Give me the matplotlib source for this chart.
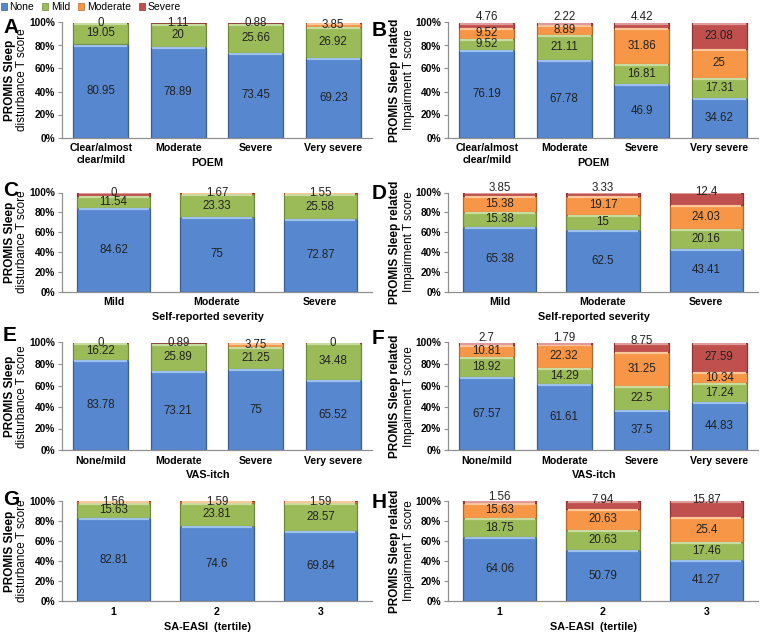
import matplotlib
matplotlib.use('Agg')
import matplotlib.pyplot
import matplotlib.patches
import numpy

matplotlib.pyplot.rcParams['font.family'] = ['Liberation Sans', 'DejaVu Sans']

# Severity levels, fill / edge / highlight colours (Excel 2007 look)
levels = ['None', 'Mild', 'Moderate', 'Severe']
fillColor = ['#5787CE', '#9BBB59', '#F79646', '#C0504D']
edgeColor = ['#3A5F8F', '#6F8A3C', '#B5692D', '#8A3533']
lightColor = ['#9EC0EC', '#C8DCA0', '#FBC79A', '#DE9C9A']

# Category labels
poemCategories = ['Clear/almost\nclear/mild', 'Moderate', 'Severe', 'Very severe']
selfCategories = ['Mild', 'Moderate', 'Severe']
itchCategories = ['None/mild', 'Moderate', 'Severe', 'Very severe']
easiCategories = ['1', '2', '3']

# A: POEM vs PROMIS sleep disturbance
aNone = [80.95, 78.89, 73.45, 69.23]
aMild = [19.05, 20, 25.66, 26.92]
aModerate = [0, 1.11, 0.88, 3.85]
aSevere = [0, 0, 0, 0]

# B: POEM vs PROMIS sleep related impairment
bNone = [76.19, 67.78, 46.9, 34.62]
bMild = [9.52, 21.11, 16.81, 17.31]
bModerate = [9.52, 8.89, 31.86, 25]
bSevere = [4.76, 2.22, 4.42, 23.08]

# C: self-reported severity vs PROMIS sleep disturbance
cNone = [84.62, 75, 72.87]
cMild = [11.54, 23.33, 25.58]
cModerate = [0, 1.67, 1.55]
cSevere = [3.84, 0, 0]

# D: self-reported severity vs PROMIS sleep related impairment
dNone = [65.38, 62.5, 43.41]
dMild = [15.38, 15, 20.16]
dModerate = [15.38, 19.17, 24.03]
dSevere = [3.85, 3.33, 12.4]

# E: VAS-itch vs PROMIS sleep disturbance
eNone = [83.78, 73.21, 75, 65.52]
eMild = [16.22, 25.89, 21.25, 34.48]
eModerate = [0, 0.89, 3.75, 0]
eSevere = [0, 0, 0, 0]

# F: VAS-itch vs PROMIS sleep related impairment
fNone = [67.57, 61.61, 37.5, 44.83]
fMild = [18.92, 14.29, 22.5, 17.24]
fModerate = [10.81, 22.32, 31.25, 10.34]
fSevere = [2.7, 1.79, 8.75, 27.59]

# G: SA-EASI tertile vs PROMIS sleep disturbance
gNone = [82.81, 74.6, 69.84]
gMild = [15.63, 23.81, 28.57]
gModerate = [1.56, 1.59, 1.59]
gSevere = [0, 0, 0]

# H: SA-EASI tertile vs PROMIS sleep related impairment
hNone = [64.06, 50.79, 41.27]
hMild = [18.75, 20.63, 17.46]
hModerate = [15.63, 20.63, 25.4]
hSevere = [1.56, 7.94, 15.87]

leftTitle = ['PROMIS Sleep', 'disturbance T score']
rightTitle = ['PROMIS Sleep related', 'Impairment T score']

# Figure in pixels
W, H = 763, 634
figure = matplotlib.pyplot.figure(figsize=(W / 100, H / 100), dpi=100)


def addAxes(x0, x1, top, bottom):
   return figure.add_axes([x0 / W, 1 - bottom / H, (x1 - x0) / W, (bottom - top) / H])


def drawPanel(axes, categories, series, xlabel, side, heightPx):
   x = numpy.arange(len(categories))
   width = 0.71
   base = numpy.zeros(len(categories))
   for i, values in enumerate(series):
      values = numpy.array(values, dtype=float)
      axes.bar(x, values, width, bottom=base, color=fillColor[i],
               edgecolor=edgeColor[i], linewidth=0.9, zorder=2)
      tops = base + values
      # Bevel highlight just under the top of each segment
      mask = values > 1.5
      axes.hlines(tops[mask] - 1.0, x[mask] - width / 2 + 0.015,
                  x[mask] + width / 2 - 0.015, color=lightColor[i],
                  linewidth=1.6, zorder=3)
      for j in range(len(x)):
         v = values[j]
         if side == 'left':
            if i == 3:
               continue
            y = 100 - v / 2 if i == 2 else base[j] + v / 2
         else:
            if i == 3 and v < 5:
               y = 104.5
            elif i == 3 and v < 20:
               y = 101
            else:
               y = base[j] + v / 2
         axes.text(x[j], y, '%g' % v, ha='center', va='center',
                   fontsize=8.3, color='#222222', zorder=4)
      base = tops

   axes.set_xlim(-0.5, len(categories) - 0.5)
   axes.set_ylim(0, 100)
   axes.set_yticks(numpy.arange(0, 101, 20))
   axes.set_yticklabels(['%d%%' % t for t in range(0, 101, 20)],
                        fontsize=7.3, fontweight='bold')
   axes.set_xticks(x)
   axes.set_xticklabels(categories, fontsize=7.6, fontweight='bold',
                        linespacing=1.25)
   axes.tick_params(axis='x', length=0, pad=4)
   axes.tick_params(axis='y', length=3, width=0.8, color='#909090', pad=2)
   for name in ['top', 'right']:
      axes.spines[name].set_visible(False)
   for name in ['left', 'bottom']:
      axes.spines[name].set_color('#909090')
      axes.spines[name].set_linewidth(0.9)
   axes.set_xlabel(xlabel, fontsize=7.8, fontweight='bold')
   axes.xaxis.set_label_coords(0.47, -20.5 / heightPx)


# letter, side, categories, series, x title, axes top, axes bottom, letter baseline (px)
panels = [
   ('A', 'left', poemCategories, [aNone, aMild, aModerate, aSevere], 'POEM', 22.5, 137.5, 33),
   ('B', 'right', poemCategories, [bNone, bMild, bModerate, bSevere], 'POEM', 22.5, 137.5, 36),
   ('C', 'left', selfCategories, [cNone, cMild, cModerate, cSevere], 'Self-reported severity', 192.5, 291.5, 196),
   ('D', 'right', selfCategories, [dNone, dMild, dModerate, dSevere], 'Self-reported severity', 192.5, 291.5, 199),
   ('E', 'left', itchCategories, [eNone, eMild, eModerate, eSevere], 'VAS-itch', 342.5, 450, 341),
   ('F', 'right', itchCategories, [fNone, fMild, fModerate, fSevere], 'VAS-itch', 342.5, 450, 344),
   ('G', 'left', easiCategories, [gNone, gMild, gModerate, gSevere], 'SA-EASI  (tertile)', 501, 601, 505),
   ('H', 'right', easiCategories, [hNone, hMild, hModerate, hSevere], 'SA-EASI  (tertile)', 501, 601, 508),
]

for letter, side, categories, series, xlabel, top, bottom, letterY in panels:
   if side == 'left':
      x0, x1, letterX, titleX = 62, 372, 3, (10, 22)
      title = leftTitle
   else:
      x0, x1, letterX, titleX = 448, 758, 372, (395, 409)
      title = rightTitle
   axes = addAxes(x0, x1, top, bottom)
   drawPanel(axes, categories, series, xlabel, side, bottom - top)

   # Panel letter
   figure.text(letterX / W, 1 - letterY / H, letter, fontsize=15,
               fontweight='bold', ha='left', va='baseline')

   # Two-line y axis title
   yc = 1 - (top + bottom) / 2 / H
   figure.text(titleX[0] / W, yc, title[0], rotation=90, ha='center',
               va='center', fontsize=8.5, fontweight='bold')
   figure.text(titleX[1] / W, yc, title[1], rotation=90, ha='center',
               va='center', fontsize=8.5)

# Legend across the top
handles = [matplotlib.patches.Patch(facecolor=fillColor[i], edgecolor=edgeColor[i],
                                    linewidth=0.5, label=levels[i]) for i in range(4)]
figure.legend(handles=handles, loc='upper left', bbox_to_anchor=(0.0, 0.998),
              ncol=4, frameon=False, fontsize=7.5, handlelength=0.55,
              handleheight=0.55, handletextpad=0.25, columnspacing=0.8,
              borderaxespad=0, borderpad=0.1)

figure.savefig('out.png', dpi=100)
